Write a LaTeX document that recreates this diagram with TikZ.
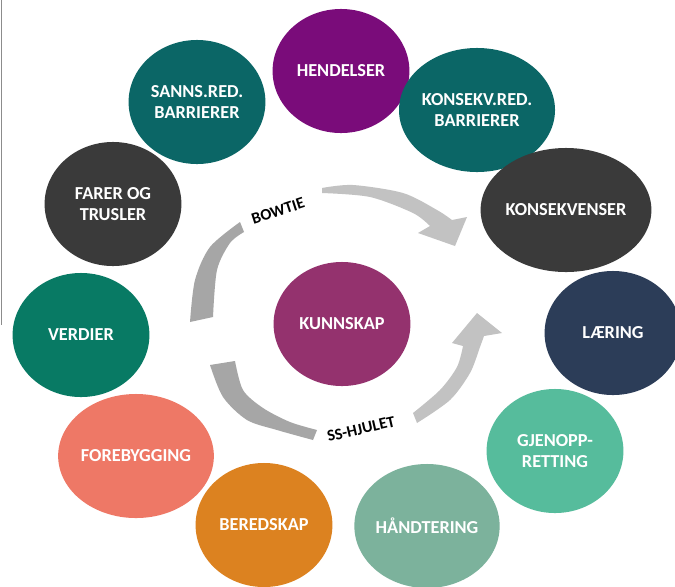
\documentclass[tikz,border=0pt]{standalone}
\usepackage{fontspec}
\setmainfont{Carlito}
\usetikzlibrary{shapes.geometric}
\definecolor{hendcol}{RGB}{122,12,122}
\definecolor{tealcol}{RGB}{11,102,102}
\definecolor{coalcol}{RGB}{58,58,58}
\definecolor{navycol}{RGB}{44,61,88}
\definecolor{verdcol}{RGB}{8,122,100}
\definecolor{salmcol}{RGB}{238,120,102}
\definecolor{orancol}{RGB}{220,130,32}
\definecolor{sagecol}{RGB}{124,178,156}
\definecolor{mintcol}{RGB}{86,188,156}
\definecolor{kunncol}{RGB}{148,50,110}
\definecolor{swdark}{RGB}{166,166,166}
\definecolor{swlight}{RGB}{194,194,194}

\begin{document}
\begin{tikzpicture}[x=0.025cm,y=-0.025cm,
  disk/.style={ellipse,minimum width=3.42cm,minimum height=3.1cm,inner sep=0pt,
    text=white,align=center,font=\bfseries\fontsize{13}{14.5}\selectfont},
  tag/.style={font=\bfseries\fontsize{11.5}{13}\selectfont,inner sep=0pt}]
  \useasboundingbox (0,0) rectangle (675,586);
  \fill[white] (0,0) rectangle (675,586);
  \draw[gray!90,line width=0.7pt] (1,0) -- (1,325);

  \fill[swdark] plot[smooth] coordinates {(190,322) (195,280) (210,247) (240,222)}
    -- plot[smooth] coordinates {(244,232) (230,243) (217,270) (213,317)} -- cycle;
  \fill[swlight] plot[smooth] coordinates {(322,188) (353,185) (403,193) (437,210) (452,220)}
    -- (467,217) -- (455,246) -- (418,233) -- (430,226)
    -- plot[smooth] coordinates {(430,226) (413,213) (370,197) (322,193)} -- cycle;
  \fill[swdark] plot[smooth] coordinates {(210,365) (223,397) (247,420) (277,430) (313,440)}
    -- plot[smooth] coordinates {(317,430) (290,422) (263,408) (243,390) (235,361)} -- cycle;
  \fill[swlight] plot[smooth] coordinates {(417,423) (450,400) (470,373) (480,347) (484,336)}
    -- (502,333) -- (477,313) -- (452,343) -- (463,346)
    -- plot[smooth] coordinates {(463,346) (457,367) (440,390) (413,413)} -- cycle;

  \node[tag,rotate=18] (bowtie) at (278,211) {BOWTIE};
  \node[tag,rotate=13] (sshjul) at (361,429) {SS-HJULET};

  \node[disk,fill=hendcol] (hendelser) at (341,71) {HENDELSER};
  \node[disk,fill=tealcol] (sannsred) at (197,102) {SANNS.RED.\\BARRIERER};
  \node[disk,fill=tealcol] (konsred) at (477,110) {KONSEKV.RED.\\BARRIERER};
  \node[disk,fill=coalcol] (farer) at (113,204) {FARER OG\\TRUSLER};
  \node[disk,fill=coalcol] (konsekv) at (566,210) {KONSEKVENSER};
  \node[disk,fill=navycol] (laering) at (613,333) {LÆRING};
  \node[disk,fill=verdcol] (verdier) at (81,335) {VERDIER};
  \node[disk,fill=salmcol] (forebyg) at (136,456) {FOREBYGGING};
  \node[disk,fill=mintcol] (gjenopp) at (555,451) {GJENOPP-\\RETTING};
  \node[disk,fill=orancol] (beredskap) at (264,525) {BEREDSKAP};
  \node[disk,fill=sagecol] (handtering) at (427,526) {HÅNDTERING};
  \node[disk,fill=kunncol] (kunnskap) at (342,324) {KUNNSKAP};
\end{tikzpicture}
\end{document}
